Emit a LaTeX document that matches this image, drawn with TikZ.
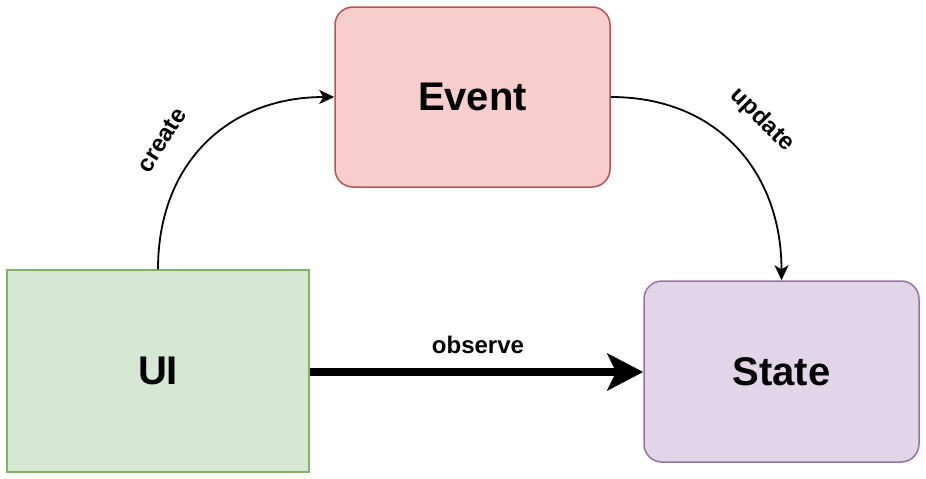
\documentclass[tikz,border=0pt]{standalone}
\usepackage{fontspec}
\setmainfont{Liberation Sans}
\usepackage{tikz}
\usetikzlibrary{shapes,arrows.meta}
\usepackage{xcolor}

\definecolor{eventFill}{HTML}{F8CECC}
\definecolor{eventLine}{HTML}{B85450}
\definecolor{uiFill}{HTML}{D5E8D4}
\definecolor{uiLine}{HTML}{82B366}
\definecolor{stateFill}{HTML}{E1D5E7}
\definecolor{stateLine}{HTML}{9673A6}

\begin{document}
\begin{tikzpicture}[
  x=1pt, y=-1pt,
  box/.style={draw,line width=1.5pt,rectangle,font=\fontsize{40}{48}\selectfont\bfseries,inner sep=0pt},
  eventBox/.style={box,rounded corners=18pt,fill=eventFill,draw=eventLine,minimum width=275pt,minimum height=180pt},
  uiBox/.style={box,fill=uiFill,draw=uiLine,minimum width=302pt,minimum height=202pt},
  stateBox/.style={box,rounded corners=18pt,fill=stateFill,draw=stateLine,minimum width=275pt,minimum height=181pt},
  flowLabel/.style={font=\fontsize{24}{28}\selectfont\bfseries,inner sep=0pt},
  flow/.style={-{Stealth[length=15pt,width=14pt,inset=4pt]},line width=1.8pt,black},
  observeFlow/.style={-{Stealth[length=36pt,width=37pt,inset=9pt]},line width=7.5pt,black}]

  \useasboundingbox (0,0) rectangle (926,479);

  % boxes
  \node[eventBox] (event) at (472.5,97) {Event};
  \node[uiBox] (ui) at (158,371) {UI};
  \node[stateBox] (state) at (781.5,371.5) {State};

  % labels
  \node[flowLabel,rotate=58] (lCreate) at (162,140) {create};
  \node[flowLabel,rotate=-45] (lUpdate) at (762,120) {update};
  \node[flowLabel] (lObserve) at (478,345) {observe};

  % connectors
  \draw [flow] (ui.north) to[out=90,in=180,looseness=1.1] (event.west);
  \draw [flow] (event.east) to[out=0,in=90,looseness=1.1] (state.north);
  \draw [observeFlow] (ui.east |- 0,372) -- (state.west |- 0,372);

\end{tikzpicture}
\end{document}
